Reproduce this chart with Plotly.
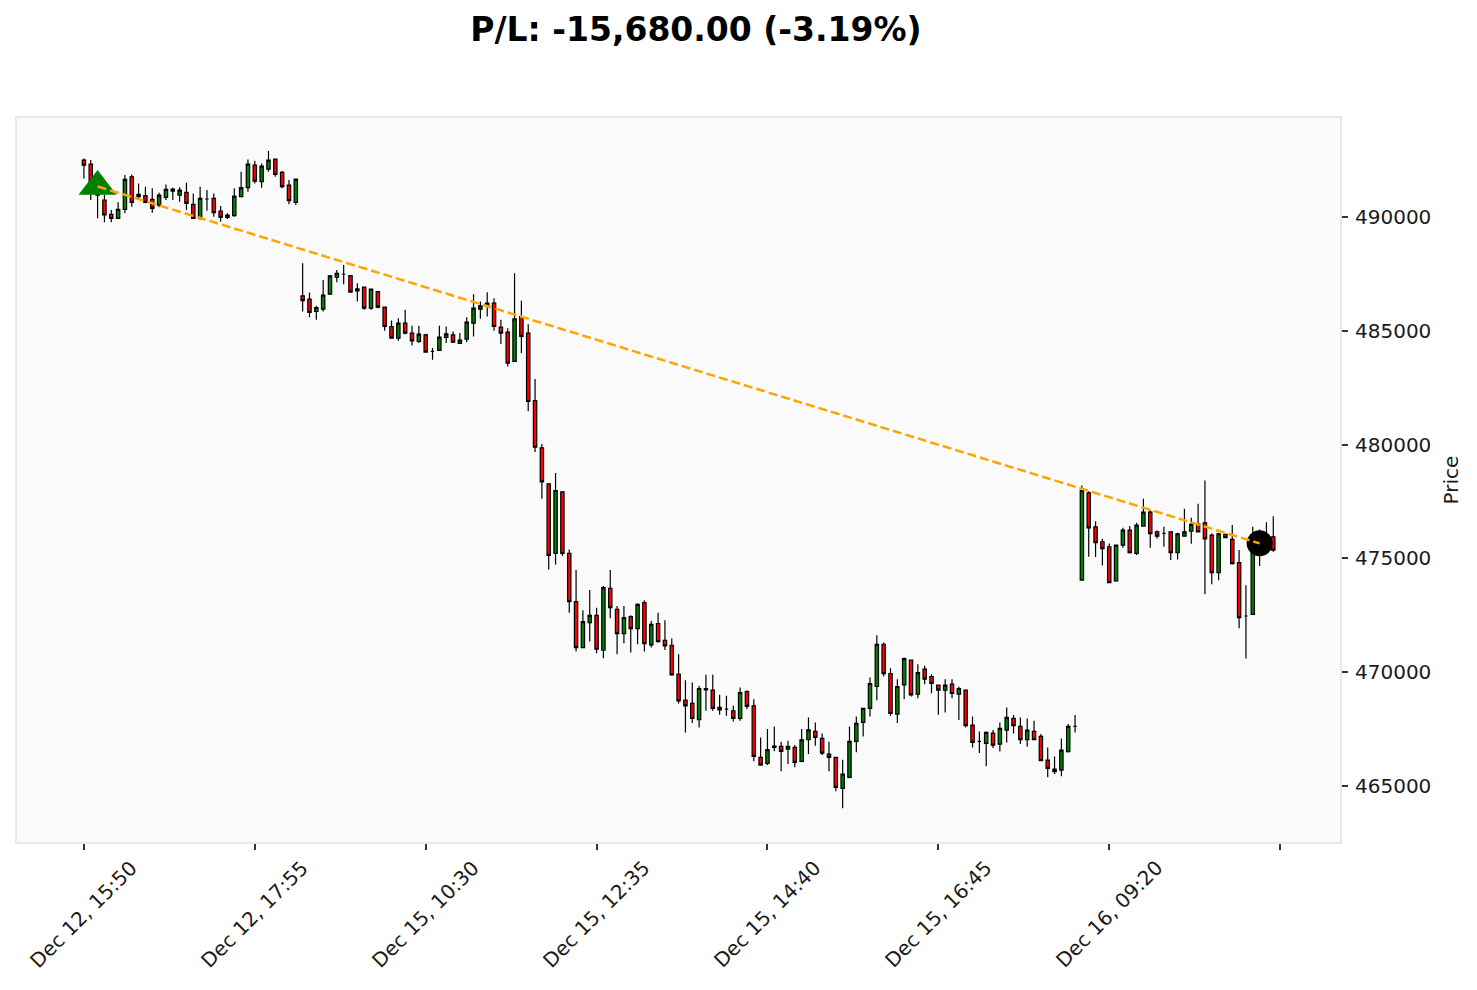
import plotly.graph_objects as go

# ---------------- data ----------------
opens = [492500, 492325, 491331, 490746, 490117, 489942, 490336, 491769, 490892, 490936,
         490775, 490526, 490863, 491228, 490965, 491082, 490556, 489942, 490790, 490819,
         490263, 489986, 490059, 490892, 491287, 492281, 491550, 492105, 492544, 491959,
         491404, 490643,
         486535, 486389, 485848, 485950, 486608, 487353, 487485, 487427, 486754, 486915,
         485994, 486725, 486038, 485190, 484678, 485336, 484897, 484532, 484824, 484093,
         484137, 484707, 484825, 484445, 484635, 485337, 485951, 486068, 486214, 485161,
         484942, 483655, 485629, 484898, 481930, 479854, 478275, 475219, 477924, 475219,
         473100, 471082, 472178, 472500, 470965, 473684, 472763, 471696, 472442, 471915,
         473056, 471199, 472135, 471404, 471184, 469913, 468772, 468626, 467910, 469284,
         469211, 468451, 468377, 468305, 467968, 469152, 468524, 466258, 465994, 466755,
         466740, 466623, 466696, 466082, 467032, 467398, 467091, 466404, 466258, 464898,
         465380, 466959, 467792, 468406, 469371, 471228, 469941, 468158, 469444, 470526,
         469035, 470131, 469810, 469430, 469210, 469474, 469035, 469210, 467675, 466959,
         466871, 467324, 466842, 467456, 467968, 467617, 467032, 467397, 467178, 466140,
         465745, 465701, 466506, 467617,
         474049, 477880, 476389, 475731, 475512, 474006, 475585, 476242, 475219, 476418,
         477032, 476169, 476096, 476169, 475248, 475979, 476199, 476520, 476564, 476023,
         474371, 476052, 475833, 474810, 472470, 472544, 475760, 475760, 475950]

highs = [492573, 492500, 491696, 490965, 490307, 490643, 491842, 491871, 491477, 491331,
         491258, 491067, 491433, 491287, 491302, 491506, 491038, 491331, 491184, 491038,
         490483, 490161, 491258, 491988, 492529, 492471, 492354, 492895, 492544, 492018,
         491623, 491667,
         487968, 486681, 486096, 487237, 487456, 487675, 487894, 487427, 487090, 486915,
         486827, 486754, 486038, 485453, 485555, 485921, 485219, 485219, 484868, 484239,
         485219, 485190, 484971, 484898, 485600, 486609, 486287, 486696, 486433, 485483,
         485117, 487530, 486316, 485293, 482880, 480029, 478275, 478757, 477924, 475395,
         474488, 472719, 473611, 472836, 473787, 474488, 472909, 472909, 472500, 473026,
         473158, 472251, 472617, 472281, 471477, 470790, 469649, 469547, 469401, 469883,
         469883, 469006, 468962, 468524, 469328, 469211, 468816, 467135, 467500, 467617,
         466945, 466989, 466798, 467500, 468012, 467793, 467310, 466945, 466258, 466155,
         467617, 468056, 468406, 469766, 471623, 471301, 470175, 469693, 470643, 470526,
         470351, 470278, 469912, 469430, 469693, 469693, 469356, 469210, 468055, 467397,
         467397, 467456, 467792, 468450, 468114, 468011, 467968, 467865, 467281, 466696,
         466301, 467090, 467719, 468114,
         478202, 477953, 476637, 475862, 475658, 475614, 476345, 476418, 476564, 477617,
         477120, 476228, 476389, 476169, 476125, 477178, 476783, 477397, 478421, 476096,
         476125, 476052, 476462, 475365, 473816, 476389, 476272, 476593, 476857]

lows = [491696, 490746, 489942, 489766, 489766, 489912, 490161, 490453, 490819, 490600,
        490190, 490424, 490746, 490746, 490673, 490307, 489912, 489869, 490278, 490015,
        489795, 489912, 490015, 490863, 491111, 491477, 491287, 491988, 491769, 491258,
        490556, 490526,
        485848, 485599, 485482, 485848, 486579, 487134, 487047, 486696, 486286, 485921,
        485921, 485994, 485000, 484649, 484561, 484853, 484356, 484459, 484049, 483728,
        484137, 484459, 484459, 484445, 484503, 484752, 485527, 485629, 485000, 484416,
        483436, 483655, 484021, 481462, 479679, 477617, 474517, 474737, 475102, 472617,
        470906, 471053, 471345, 470833, 470614, 472368, 470790, 471272, 470863, 471228,
        470906, 471082, 471301, 470980, 469839, 468626, 467354, 467763, 467573, 468305,
        468305, 468129, 468085, 467837, 467866, 468377, 466082, 465892, 465921, 466521,
        465643, 465965, 465819, 466038, 466404, 466769, 466360, 465643, 464766, 464021,
        465336, 466477, 467178, 468055, 468772, 469810, 468085, 467763, 468816, 468933,
        468860, 469474, 469079, 468128, 468231, 468860, 467894, 467573, 466696, 466447,
        465862, 466667, 466520, 466915, 467310, 466842, 466725, 467017, 466111, 465380,
        465526, 465424, 466476, 467353,
        474049, 475073, 475058, 474693, 473933, 473976, 475468, 475219, 475146, 476418,
        475468, 475877, 475512, 474927, 474956, 475979, 475643, 476155, 473421, 473860,
        474035, 475906, 474737, 471930, 470599, 472544, 474664, 475541, 475292]

closes = [492281, 491331, 490965, 490088, 489942, 490336, 491652, 490643, 490994, 490643,
          490380, 490965, 491213, 491140, 491184, 490600, 489942, 490819, 490790, 490190,
          489986, 490088, 490921, 491287, 492325, 491579, 492237, 492500, 491871, 491331,
          490717, 491667,
          486330, 485804, 486023, 486564, 487412, 487529, 487485, 486696, 486842, 485994,
          486827, 486038, 485190, 484678, 485336, 484897, 484561, 484853, 484064, 484093,
          484722, 484868, 484503, 484591, 485380, 485994, 486097, 486214, 485190, 484898,
          483582, 485527, 484752, 481901, 479883, 478363, 475132, 477983, 475219, 473100,
          471082, 472222, 472500, 471009, 473713, 472836, 471696, 472398, 471915, 472982,
          471257, 472105, 471345, 471155, 469883, 468743, 468524, 467968, 469284, 469225,
          468407, 468348, 468377, 467968, 469108, 468494, 466302, 465921, 466594, 466696,
          466521, 466740, 466038, 467032, 467471, 467135, 466448, 466258, 464942, 465527,
          466959, 467749, 468406, 469503, 471228, 469941, 468187, 469371, 470599, 469006,
          469985, 469693, 469503, 469210, 469430, 469064, 469283, 467646, 466915, 466959,
          467353, 466798, 467529, 468011, 467646, 467032, 467456, 467032, 466111, 465775,
          465628, 466579, 467617, 467617,
          477982, 476345, 475687, 475424, 473933, 475585, 476242, 475248, 476462, 477032,
          476082, 475979, 476096, 475248, 476082, 476169, 476491, 476169, 475862, 474371,
          476082, 475906, 474766, 472397, 472470, 475760, 475660, 475906, 475365]

tick_index = [0, 25, 50, 75, 100, 125, 150, 175]
tick_labels = ["Dec 12, 15:50", "Dec 12, 17:55", "Dec 15, 10:30", "Dec 15, 12:35",
               "Dec 15, 14:40", "Dec 15, 16:45", "Dec 16, 09:20", ""]
price_ticks = [465000, 470000, 475000, 480000, 485000, 490000]

entry_index, entry_price = 2, 491340
exit_index, exit_price = 172, 475660
title_text = "P/L: -15,680.00 (-3.19%)"

# ---------------- figure ----------------
x = list(range(len(opens)))
FONT = "DejaVu Sans"
TXT = "#1a1a1a"

# page body has an 8px margin -> figure is 1461x974 inside the 1477x990 window
W, H = 1461, 974
ML, MR, MT, MB = 7, 129, 110, 140
plot_h = H - MT - MB

fig = go.Figure()
fig.add_trace(go.Candlestick(
    x=x, open=opens, high=highs, low=lows, close=closes,
    increasing=dict(fillcolor="#008000", line=dict(color="black", width=1.2)),
    decreasing=dict(fillcolor="#ff0000", line=dict(color="black", width=1.2)),
    whiskerwidth=0, showlegend=False, hoverinfo="skip",
))
fig.add_trace(go.Scatter(
    x=[entry_index], y=[entry_price], mode="markers",
    marker=dict(symbol="triangle-up", size=33, color="#008000", line=dict(width=0)),
    showlegend=False, hoverinfo="skip",
))
fig.add_trace(go.Scatter(
    x=[exit_index], y=[exit_price], mode="markers",
    marker=dict(symbol="circle", size=26, color="black", line=dict(width=0)),
    showlegend=False, hoverinfo="skip",
))
fig.add_trace(go.Scatter(
    x=[entry_index, exit_index], y=[entry_price, exit_price], mode="lines",
    line=dict(color="#FFA500", width=2.5, dash="9px,4px"),
    showlegend=False, hoverinfo="skip",
))

# rotated x tick labels centred on their ticks (matplotlib style)
for ti, tl in zip(tick_index, tick_labels):
    if not tl:
        continue
    fig.add_annotation(
        x=ti, xref="x", y=-11 / plot_h, yref="paper",
        text=tl, textangle=-45, showarrow=False,
        xanchor="center", yanchor="top",
        font=dict(family=FONT, size=20, color=TXT),
    )

fig.update_layout(
    width=W, height=H,
    margin=dict(l=ML, r=MR, t=MT, b=MB),
    paper_bgcolor="white",
    plot_bgcolor="#fafafa",
    font=dict(family=FONT, color=TXT),
    boxgap=0.3,
    title=dict(
        text="<b>" + title_text + "</b>",
        font=dict(family=FONT, size=33, color="black"),
        x=688 / W, xref="container", xanchor="center",
        y=1 - 21 / H, yref="container", yanchor="middle",
    ),
    xaxis=dict(
        range=[-9.79, 183.76],
        tickmode="array", tickvals=tick_index, ticktext=tick_labels,
        showticklabels=False,
        ticks="outside", ticklen=6, tickwidth=1.5, tickcolor="#333333",
        showgrid=False, zeroline=False,
        showline=True, linecolor="#e8e8e8", linewidth=2, mirror=True,
        rangeslider=dict(visible=False),
    ),
    yaxis=dict(
        side="right",
        range=[462539, 494350],
        tickmode="array", tickvals=price_ticks,
        ticktext=[str(v) for v in price_ticks],
        ticks="outside", ticklen=6, tickwidth=1.5, tickcolor="#333333",
        ticklabelstandoff=3,
        tickfont=dict(family=FONT, size=20, color=TXT),
        showgrid=False, zeroline=False,
        showline=True, linecolor="#e8e8e8", linewidth=2, mirror=True,
        title=dict(text="Price", font=dict(family=FONT, size=20, color=TXT), standoff=14),
    ),
)

fig.write_html("out.html")
